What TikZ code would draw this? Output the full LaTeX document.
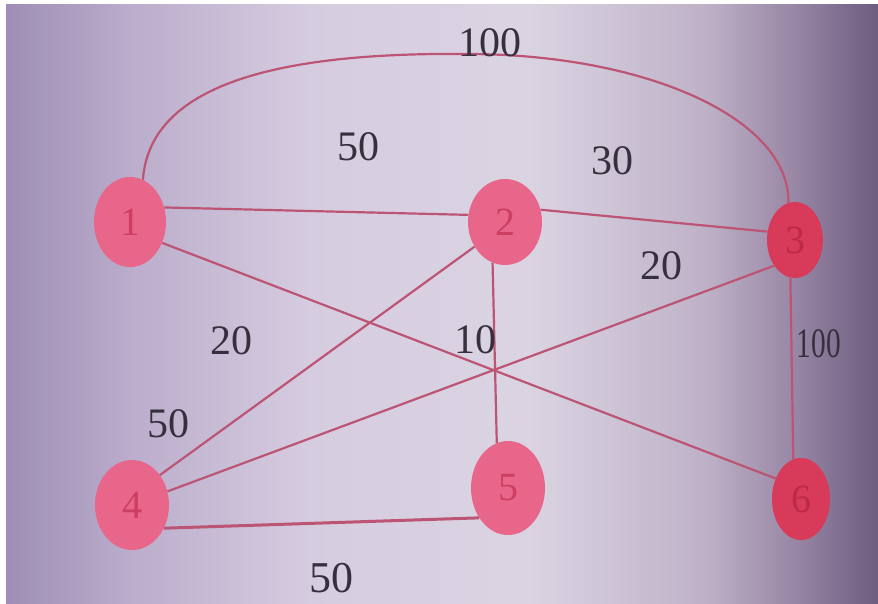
\documentclass[tikz,border=0pt]{standalone}
\usepackage{fontspec}
\setmainfont{Liberation Serif}
\usetikzlibrary{shapes.geometric}
\definecolor{bgA}{HTML}{9E8EB6}
\definecolor{bgB}{HTML}{BCAECC}
\definecolor{bgC}{HTML}{D6CCE0}
\definecolor{bgD}{HTML}{DAD4E2}
\definecolor{bgE}{HTML}{BFB2C8}
\definecolor{bgF}{HTML}{9A88A6}
\definecolor{bgG}{HTML}{6E5C80}
\definecolor{nodeA}{HTML}{E8668A}
\definecolor{nodeB}{HTML}{D83A5A}
\definecolor{numcolA}{HTML}{CC3E62}
\definecolor{numcolB}{HTML}{BC2A48}
\definecolor{edgecol}{HTML}{BC5474}
\definecolor{labcol}{HTML}{36303E}
\pgfdeclarehorizontalshading{bgshade}{100bp}{color(0bp)=(bgA); color(25bp)=(bgA);
  color(32.5bp)=(bgB); color(42.5bp)=(bgC); color(55bp)=(bgD); color(65bp)=(bgE);
  color(70bp)=(bgF); color(75bp)=(bgG); color(100bp)=(bgG)}
\tikzset{
  vtx/.style={ellipse, draw=none, inner sep=0pt,
    font=\fontsize{40}{40}\selectfont},
  vlight/.style={vtx, fill=nodeA, text=numcolA},
  vdark/.style={vtx, fill=nodeB, text=numcolB},
  edge/.style={draw=edgecol, line width=2.2pt},
  wlab/.style={text=labcol, inner sep=0pt, font=\fontsize{42}{42}\selectfont}
}
\begin{document}
\begin{tikzpicture}[x=1pt,y=-1pt]
\useasboundingbox (0,0) rectangle (878,603);
\fill[white] (0,0) rectangle (878,603);
\shade[shading=bgshade] (6,4) rectangle (878,603);

\node[vlight, minimum width=72pt, minimum height=90pt] (n1) at (130,222) {1};
\node[vlight, minimum width=74pt, minimum height=86pt] (n2) at (505,222) {2};
\node[vdark,  minimum width=56pt, minimum height=76pt] (n3) at (795,240) {3};
\node[vlight, minimum width=74pt, minimum height=90pt] (n4) at (132,505) {4};
\node[vlight, minimum width=74pt, minimum height=94pt] (n5) at (508,488) {5};
\node[vdark,  minimum width=58pt, minimum height=82pt] (n6) at (801,499) {6};

\coordinate (top) at (470,54);

\draw[edge] (n1.73) .. controls (150,80) and (290,52) .. (top)
  .. controls (650,55) and (790,120) .. (n3.100);
\draw[edge] (n1.23) -- (n2.169);
\draw[edge] (n2.19) -- (n3.163);
\draw[edge] (n1.-33) -- (n6.141);
\draw[edge] (n2.219) -- (n4.47);
\draw[edge] (n2.253) -- (n5.104);
\draw[edge] (n3.231) -- (n4.21);
\draw[edge] (n3.263) -- (n6.101);
\draw[edge, line width=3pt] (n4.-36) -- (n5.226);

\node[wlab] (l13) at (490,43) {100};
\node[wlab] (l12) at (358,147) {50};
\node[wlab] (l23) at (612,161) {30};
\node[wlab] (l24) at (231,341) {20};
\node[wlab] (l25) at (475,340) {10};
\node[wlab] (l34) at (661,266) {20};
\node[wlab, xscale=0.7] (l36) at (819,344) {100};
\node[wlab] (l14) at (168,424) {50};
\node[wlab, font=\fontsize{44}{44}\selectfont] (l45) at (331,578) {50};
\end{tikzpicture}
\end{document}
